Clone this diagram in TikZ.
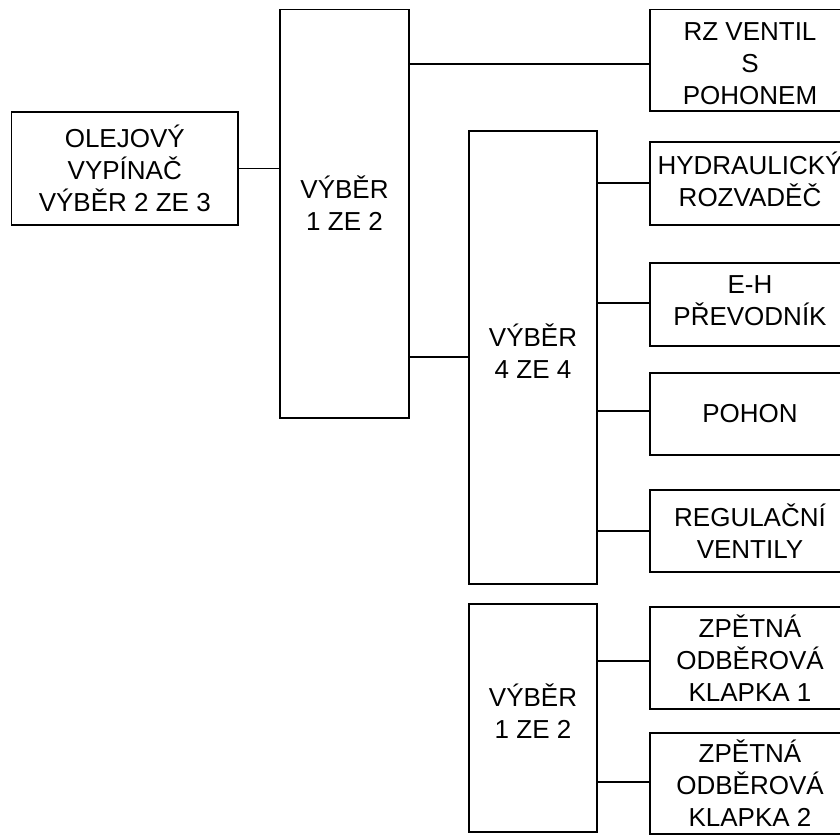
\documentclass[tikz,border=0pt]{standalone}
\usepackage{fontspec}
\setmainfont{Liberation Sans}
\newcommand{\raiseby}[1]{\rule[-#1]{0pt}{0pt}}
\begin{document}
\begin{tikzpicture}[x=1pt,y=-1pt,
  box/.style={draw,line width=1.3pt,rectangle,inner sep=0pt,align=center,
    font=\fontsize{26}{32}\selectfont},
  conn/.style={line width=1.3pt}]
\clip (0,0) rectangle (840,835);
\fill[white] (0,0) rectangle (840,835);
\node[box,minimum width=226.5pt,minimum height=113pt] (olej) at (124.75,168.5) {OLEJOVÝ\\VYPÍNAČ\\VÝBĚR 2 ZE 3};
\node[box,minimum width=129pt,minimum height=408.5pt] (v1) at (344.5,213.75) {VÝBĚR\\1 ZE 2\raiseby{22pt}};
\node[box,minimum width=200pt,minimum height=101.5pt] (rz) at (750,60.25) {\rule{0pt}{24pt}RZ VENTIL\\S\\POHONEM};
\node[box,minimum width=128pt,minimum height=453pt] (v4) at (533,357.5) {VÝBĚR\\4 ZE 4\raiseby{12pt}};
\node[box,minimum width=200pt,minimum height=83pt] (hyd) at (750,183.5) {HYDRAULICKÝ\\ROZVADĚČ\raiseby{8pt}};
\node[box,minimum width=200pt,minimum height=83pt] (eh) at (750,304.5) {E-H\\PŘEVODNÍK\raiseby{7pt}};
\node[box,minimum width=200pt,minimum height=82pt] (pohon) at (750,414) {POHON};
\node[box,minimum width=200pt,minimum height=82pt] (reg) at (750,531) {REGULAČNÍ\\VENTILY};
\node[box,minimum width=128pt,minimum height=228pt] (vb) at (533,718) {VÝBĚR\\1 ZE 2\raiseby{13pt}};
\node[box,minimum width=200pt,minimum height=102pt] (z1) at (750,658) {ZPĚTNÁ\\ODBĚROVÁ\\KLAPKA 1};
\node[box,minimum width=200pt,minimum height=101pt] (z2) at (750,783.5) {ZPĚTNÁ\\ODBĚROVÁ\\KLAPKA 2};
\coordinate (yrz) at (0,64);
\coordinate (yv4) at (0,357);
\coordinate (yhyd) at (0,183);
\coordinate (yeh) at (0,303);
\coordinate (ypo) at (0,411);
\coordinate (yreg) at (0,531);
\coordinate (yz1) at (0,661);
\coordinate (yz2) at (0,782);
\draw[conn] (olej.east) -- (v1.west |- olej.east);
\draw[conn] (v1.east |- yrz) -- (rz.west |- yrz);
\draw[conn] (v1.east |- yv4) -- (v4.west |- yv4);
\draw[conn] (v4.east |- yhyd) -- (hyd.west |- yhyd);
\draw[conn] (v4.east |- yeh) -- (eh.west |- yeh);
\draw[conn] (v4.east |- ypo) -- (pohon.west |- ypo);
\draw[conn] (v4.east |- yreg) -- (reg.west |- yreg);
\draw[conn] (vb.east |- yz1) -- (z1.west |- yz1);
\draw[conn] (vb.east |- yz2) -- (z2.west |- yz2);
\end{tikzpicture}
\end{document}
